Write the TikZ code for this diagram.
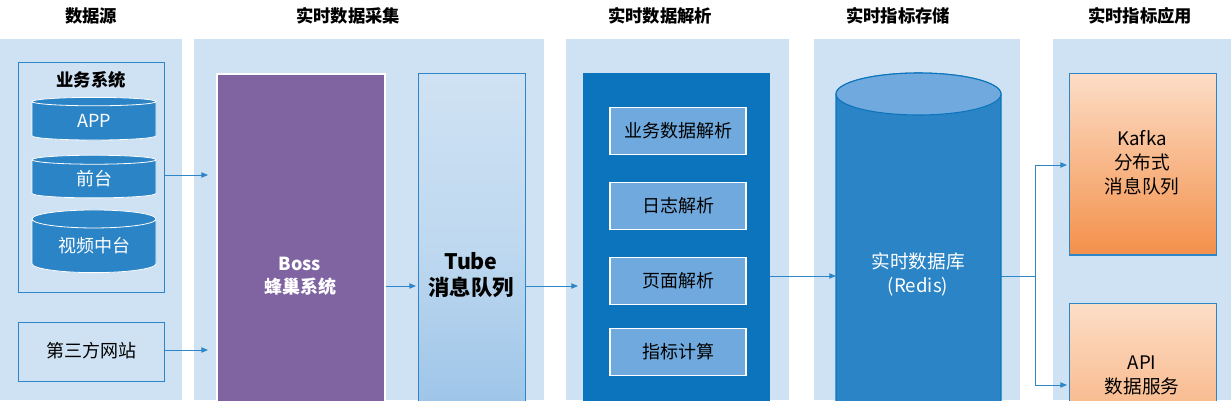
\documentclass[tikz,border=0pt]{standalone}
\usepackage{fontspec}
\setmainfont{Noto Sans CJK SC}
\usetikzlibrary{shapes.geometric,arrows.meta}
\definecolor{panel}{HTML}{CFE2F3}
\definecolor{bord}{HTML}{2E86C8}
\definecolor{dblue}{HTML}{0B74BD}
\definecolor{mblue}{HTML}{2A84C6}
\definecolor{lblue}{HTML}{6FA9DD}
\definecolor{purp}{HTML}{8064A2}
\definecolor{otop}{HTML}{FCDDC6}
\definecolor{obot}{HTML}{F4904A}
\tikzset{
 panelbox/.style={fill=panel,draw=none},
 hdr/.style={font=\bfseries\fontsize{13}{15}\selectfont,text=black},
 cyl/.style={cylinder,shape border rotate=90,aspect=0.25,draw=white,line width=0.6pt,fill=mblue,cylinder uses custom fill,cylinder body fill=mblue,cylinder end fill=lblue,text=white,font=\fontsize{13.5}{15}\selectfont,minimum width=93pt,inner sep=0pt},
 inbox/.style={draw=white,line width=1pt,fill=lblue,minimum width=102pt,minimum height=35pt,font=\fontsize{13.5}{15}\selectfont},
 arr/.style={-{Triangle[length=5pt,width=4pt]},draw=bord,line width=0.7pt},
}
\begin{document}
\begin{tikzpicture}[x=0.75pt,y=-0.75pt]
\useasboundingbox (0,0) rectangle (1231,400);
\clip (0,0) rectangle (1231,400);
% panels
\fill[panelbox] (0,39) rectangle (182,400);
\fill[panelbox] (194,39) rectangle (544,400);
\fill[panelbox] (566,39) rectangle (789,400);
\fill[panelbox] (814,39) rectangle (1020,400);
\fill[panelbox] (1053,39) rectangle (1231,400);
\node[hdr] (h1) at (91,16) {数据源};
\node[hdr] (h2) at (348,16) {实时数据采集};
\node[hdr] (h3) at (660,16) {实时数据解析};
\node[hdr] (h4) at (898,16) {实时指标存储};
\node[hdr] (h5) at (1140,16) {实时指标应用};
% sources
\node[draw=bord,line width=0.8pt,minimum width=109.5pt,minimum height=172.5pt,anchor=north west,inner sep=0pt] (biz) at (18,62) {};
\node[font=\bfseries\fontsize{13}{15}\selectfont] (bizt) at (91,80) {业务系统};
\node[cyl,minimum height=32pt] (app) at (94,121) {APP};
\node[cyl,minimum height=32pt] (qt) at (94,179) {前台};
\node[cyl,minimum height=47pt] (sp) at (94,246) {视频中台};
\node[draw=bord,line width=0.8pt,minimum width=109.5pt,minimum height=44pt,anchor=north west] (third) at (18,322) {};
\node[font=\fontsize{13.5}{15}\selectfont] (thirdt) at (91,351) {第三方网站};
% collection
\node[draw=white,line width=1.5pt,fill=purp,anchor=north west,minimum width=126pt,minimum height=260pt,inner sep=0pt] (boss) at (216,73) {};
\node[text=white,font=\bfseries\fontsize{13.5}{17}\selectfont,align=center] (bosst) at (300,276) {Boss\\蜂巢系统};
\node[draw=bord,line width=0.8pt,top color=panel,bottom color=lblue!70,middle color=lblue!45,anchor=north west,minimum width=80pt,minimum height=260pt,inner sep=0pt] (tube) at (418,73) {};
\node[font=\bfseries\fontsize{16}{19}\selectfont,align=center] (tubet) at (471,275) {Tube\\消息队列};
\coordinate (a1) at (208,175);
\coordinate (a2) at (208,350);
\draw[arr] (biz.east |- a1) -- (a1);
\draw[arr] (third.east |- a2) -- (a2);
\coordinate (a3) at (416,286);
\draw[arr] (boss.east |- a3) -- (a3);
\coordinate (a4) at (578,286);
\draw[arr] (tube.east |- a4) -- (a4);
% parse
\node[fill=dblue,anchor=north west,minimum width=140pt,minimum height=260pt,inner sep=0pt] (parse) at (583,73) {};
\node[inbox] (p1) at (678,131) {业务数据解析};
\node[inbox] (p2) at (678,206) {日志解析};
\node[inbox] (p3) at (678,281) {页面解析};
\node[inbox] (p4) at (678,352) {指标计算};
% storage: cylinder drawn directly
\draw[dblue,line width=0.8pt,fill=mblue] (836,94) -- (836,420) -- (1001,420) -- (1001,94) arc[start angle=0,end angle=-180,x radius=82.5,y radius=21] -- cycle;
\draw[dblue,line width=0.8pt,fill=lblue] (918.5,94) ellipse[x radius=82.5,y radius=21];
\node[text=white,font=\fontsize{14}{18}\selectfont,align=center] (redist) at (918,274) {实时数据库\\(Redis)};
\coordinate (redisw) at (836,276);
\coordinate (b0) at (1001,276);
\draw[arr] (parse.east |- redisw) -- (redisw);
% apps
\node[draw=bord,line width=1pt,top color=otop,bottom color=obot,anchor=north west,minimum width=110pt,minimum height=136pt,inner sep=0pt] (kafka) at (1069,73) {};
\node[font=\fontsize{14}{18}\selectfont,align=center] (kafkat) at (1142,163) {Kafka\\分布式\\消息队列};
\node[draw=bord,line width=1pt,top color=otop,bottom color=obot!70!otop,anchor=north west,minimum width=110pt,minimum height=120pt,inner sep=0pt] (api) at (1069,303) {};
\node[font=\fontsize{14}{18}\selectfont,align=center,anchor=north] (apit) at (1142,351) {API\\数据服务\\接口};
\coordinate (bj) at (1035,276);
\coordinate (k1) at (1067,165);
\coordinate (k2) at (1067,385);
\draw[draw=bord,line width=0.7pt] (b0) -- (bj);
\draw[arr] (bj) |- (k1);
\draw[arr] (bj) |- (k2);
\end{tikzpicture}
\end{document}
